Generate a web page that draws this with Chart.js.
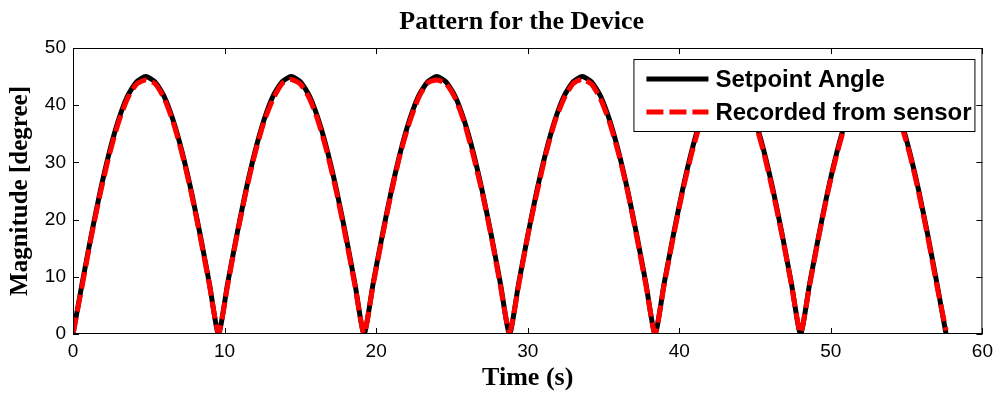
<!DOCTYPE html>
<html>
<head>
<meta charset="utf-8">
<script src="https://cdn.jsdelivr.net/npm/chart.js@4.4.0/dist/chart.umd.min.js"></script>
<style>
  html, body { margin: 0; padding: 0; background: #fff; }
</style>
</head>
<body>
<canvas id="chart" width="999" height="396"></canvas>
<script>
// time axis (s), one sample every 0.6 s
const timeS = [0, 0.6, 1.2, 1.8, 2.4, 3, 3.6, 4.2, 4.8, 5.4, 6, 6.6, 7.2, 7.8, 8.4, 9,
  9.6, 10.2, 10.8, 11.4, 12, 12.6, 13.2, 13.8, 14.4, 15, 15.6, 16.2, 16.8, 17.4, 18, 18.6,
  19.2, 19.8, 20.4, 21, 21.6, 22.2, 22.8, 23.4, 24, 24.6, 25.2, 25.8, 26.4, 27, 27.6, 28.2,
  28.8, 29.4, 30, 30.6, 31.2, 31.8, 32.4, 33, 33.6, 34.2, 34.8, 35.4, 36, 36.6, 37.2, 37.8,
  38.4, 39, 39.6, 40.2, 40.8, 41.4, 42, 42.6, 43.2, 43.8, 44.4, 45, 45.6, 46.2, 46.8, 47.4,
  48, 48.6, 49.2, 49.8, 50.4, 51, 51.6, 52.2, 52.8, 53.4, 54, 54.6, 55.2, 55.8, 56.4, 57,
  57.6];

const setpointAngle = [0, 8.8, 17.2, 25.0, 31.8, 37.4, 41.6, 44.1, 45.0, 44.1, 41.6, 37.4, 31.8, 25.0, 17.2, 8.8,
  0, 8.8, 17.2, 25.0, 31.8, 37.4, 41.6, 44.1, 45.0, 44.1, 41.6, 37.4, 31.8, 25.0, 17.2, 8.8,
  0, 8.8, 17.2, 25.0, 31.8, 37.4, 41.6, 44.1, 45.0, 44.1, 41.6, 37.4, 31.8, 25.0, 17.2, 8.8,
  0, 8.8, 17.2, 25.0, 31.8, 37.4, 41.6, 44.1, 45.0, 44.1, 41.6, 37.4, 31.8, 25.0, 17.2, 8.8,
  0, 8.8, 17.2, 25.0, 31.8, 37.4, 41.6, 44.1, 45.0, 44.1, 41.6, 37.4, 31.8, 25.0, 17.2, 8.8,
  0, 8.8, 17.2, 25.0, 31.8, 37.4, 41.6, 44.1, 45.0, 44.1, 41.6, 37.4, 31.8, 25.0, 17.2, 8.8,
  0];

const recordedSensor = [0, 8.4, 16.9, 24.6, 31.4, 37.0, 41.2, 43.7, 44.4, 43.8, 41.3, 37.1, 31.5, 24.7, 16.9, 8.6,
  0.2, 8.5, 17.0, 24.7, 31.5, 37.1, 41.1, 43.8, 44.5, 43.7, 41.2, 37.0, 31.4, 24.6, 16.8, 8.5,
  0.1, 8.6, 16.9, 24.7, 31.6, 37.0, 41.3, 43.9, 44.4, 43.8, 41.3, 37.1, 31.3, 24.7, 17.0, 8.4,
  0.3, 8.5, 17.1, 24.6, 31.5, 37.2, 41.2, 43.8, 44.5, 43.7, 41.1, 37.0, 31.5, 24.8, 16.9, 8.5,
  0.1, 8.6, 16.9, 24.7, 31.4, 37.0, 41.3, 43.8, 44.4, 43.9, 41.2, 37.1, 31.4, 24.6, 17.0, 8.6,
  0.2, 8.5, 17.0, 24.8, 31.5, 37.1, 41.2, 43.7, 44.5, 43.8, 41.3, 37.0, 31.5, 24.7, 16.9, 8.4,
  0.6];

const xTicks = [0, 10, 20, 30, 40, 50, 60];
const yTicks = [0, 10, 20, 30, 40, 50];
const chartTitle = 'Pattern for the Device';

const toPoints = (xs, ys) => xs.map((x, i) => ({ x: x, y: ys[i] }));

// matlab style box, inward ticks on all four sides, title and the legend box
const matlabAxes = {
    id: 'matlabAxes',
    afterDatasetsDraw(chart) {
        const ctx = chart.ctx;
        const a = chart.chartArea;
        const xs = chart.scales.x;
        const ys = chart.scales.y;
        const tick = 6;

        ctx.save();
        ctx.strokeStyle = '#000';
        ctx.lineWidth = 1;
        ctx.strokeRect(a.left + 0.5, a.top + 0.5, a.right - a.left - 1, a.bottom - a.top - 1);

        ctx.beginPath();
        xTicks.forEach(v => {
            const px = Math.round(xs.getPixelForValue(v)) + 0.5;
            ctx.moveTo(px, a.bottom); ctx.lineTo(px, a.bottom - tick);
            ctx.moveTo(px, a.top); ctx.lineTo(px, a.top + tick);
        });
        yTicks.forEach(v => {
            const py = Math.round(ys.getPixelForValue(v)) + 0.5;
            ctx.moveTo(a.left, py); ctx.lineTo(a.left + tick, py);
            ctx.moveTo(a.right, py); ctx.lineTo(a.right - tick, py);
        });
        ctx.stroke();

        // title, centred over the axes like matlab does
        ctx.fillStyle = '#000';
        ctx.textAlign = 'center';
        ctx.textBaseline = 'middle';
        ctx.font = 'bold 26px "Liberation Serif", "Times New Roman", serif';
        ctx.fillText(chartTitle, (a.left + a.right) / 2 - 6, a.top - 26);

        // legend
        const boxL = a.right - 349, boxT = a.top + 11, boxW = 341, boxH = 72;
        ctx.fillStyle = '#fff';
        ctx.fillRect(boxL, boxT, boxW, boxH);
        ctx.strokeRect(boxL + 0.5, boxT + 0.5, boxW, boxH);

        ctx.font = 'bold 24px "Liberation Sans", Arial, sans-serif';
        ctx.textAlign = 'left';
        ctx.fillStyle = '#000';
        chart.data.datasets.forEach((ds, i) => {
            const rowY = boxT + 20 + i * 33;
            ctx.beginPath();
            ctx.strokeStyle = ds.borderColor;
            ctx.lineWidth = ds.borderWidth;
            ctx.setLineDash(ds.borderDash || []);
            ctx.moveTo(boxL + 13, rowY);
            ctx.lineTo(boxL + 75, rowY);
            ctx.stroke();
            ctx.setLineDash([]);
            ctx.fillText(ds.label, boxL + 82, rowY + 1);
        });
        ctx.restore();
    }
};

new Chart(document.getElementById('chart'), {
    type: 'line',
    data: {
        datasets: [{
            label: 'Setpoint Angle',
            data: toPoints(timeS, setpointAngle),
            borderColor: '#000000',
            borderWidth: 5,
            borderJoinStyle: 'round',
            pointRadius: 0,
            tension: 0.2,
            order: 2,
            fill: false
        }, {
            label: 'Recorded from sensor',
            data: toPoints(timeS, recordedSensor),
            borderColor: '#ff0000',
            borderWidth: 5,
            borderDash: [17, 6],
            borderJoinStyle: 'round',
            pointRadius: 0,
            tension: 0.2,
            order: 1,
            fill: false
        }]
    },
    options: {
        responsive: false,
        animation: false,
        layout: { padding: { left: 0, right: 14, top: 48, bottom: 0 } },
        plugins: {
            legend: { display: false },
            tooltip: { enabled: false },
            title: { display: false }
        },
        scales: {
            x: {
                type: 'linear',
                min: 0,
                max: 60,
                afterBuildTicks: s => { s.ticks = xTicks.map(v => ({ value: v })); },
                afterFit: s => { s.height = 62; },
                grid: { display: false, drawTicks: false },
                border: { display: false },
                ticks: {
                    color: '#000',
                    padding: 6,
                    maxRotation: 0,
                    font: { family: '"Liberation Sans", Arial, sans-serif', size: 19 }
                },
                title: {
                    display: true,
                    text: 'Time (s)',
                    color: '#000',
                    font: { family: '"Liberation Serif", "Times New Roman", serif', size: 26, weight: 'bold' },
                    padding: { top: 0, bottom: 2 }
                }
            },
            y: {
                min: 0,
                max: 50,
                afterBuildTicks: s => { s.ticks = yTicks.map(v => ({ value: v })); },
                afterFit: s => { s.width = 73; },
                grid: { display: false, drawTicks: false },
                border: { display: false },
                ticks: {
                    color: '#000',
                    padding: 7,
                    font: { family: '"Liberation Sans", Arial, sans-serif', size: 19 }
                },
                title: {
                    display: true,
                    text: 'Magnitude [degree]',
                    color: '#000',
                    font: { family: '"Liberation Serif", "Times New Roman", serif', size: 25, weight: 'bold' },
                    padding: { top: 6, bottom: 0 }
                }
            }
        }
    },
    plugins: [matlabAxes]
});
</script>
</body>
</html>
